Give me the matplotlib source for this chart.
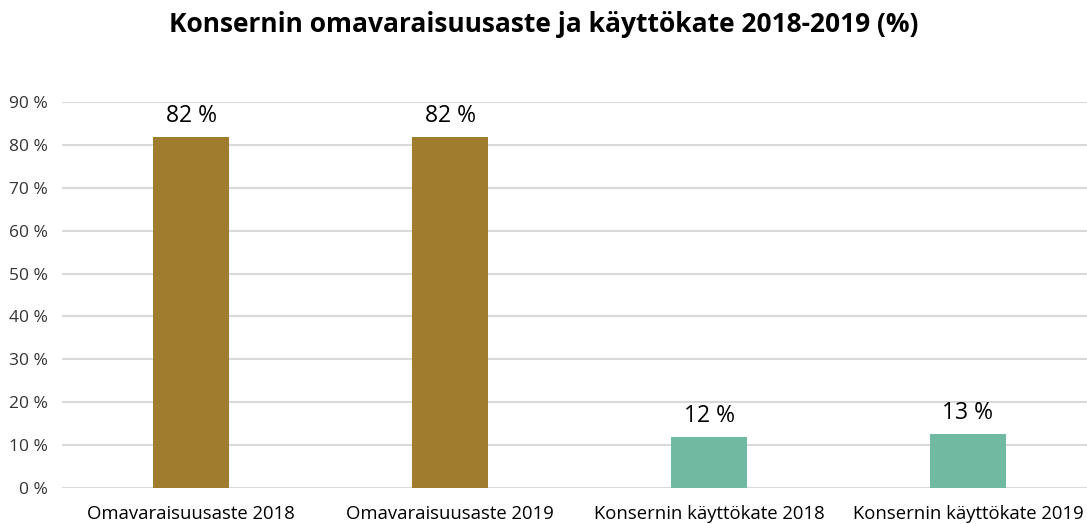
import matplotlib.pyplot as plt

plt.rcParams['font.family'] = ['Open Sans', 'DejaVu Sans']

categories = ['Omavaraisuusaste 2018', 'Omavaraisuusaste 2019',
              'Konsernin käyttökate 2018', 'Konsernin käyttökate 2019']
values = [81.9, 81.9, 11.9, 12.6]
labels = ['82 %', '82 %', '12 %', '13 %']
colors = ['#A07C2E', '#A07C2E', '#71B9A0', '#71B9A0']
yticks = list(range(0, 91, 10))

fig = plt.figure(figsize=(10.87, 5.24), dpi=100)
ax = fig.add_axes([62 / 1087, 36 / 524, 1025 / 1087, 386 / 524])

x = range(len(categories))
bars = ax.bar(x, values, width=0.293, color=colors, zorder=3)
for b, lab in zip(bars, labels):
    ax.text(b.get_x() + b.get_width() / 2, b.get_height() + 2.0, lab,
            ha='center', va='bottom', fontsize=16.5, color='#000000')

ax.set_xlim(-0.5, 3.46)
ax.set_ylim(0, 90)
ax.set_yticks(yticks)
ax.set_yticklabels([f'{t} %' for t in yticks], fontsize=12.5, color='#333333')
ax.set_xticks(list(x))
ax.set_xticklabels(categories, fontsize=13.3, color='#000000')
ax.tick_params(length=0, pad=10)
ax.tick_params(axis='x', pad=12)
ax.grid(axis='y', color='#D9D9D9', linewidth=1.5, zorder=0)
for s in ax.spines.values():
    s.set_visible(False)

fig.text(0.5, 1 - 25 / 524, 'Konsernin omavaraisuusaste ja käyttökate 2018-2019 (%)',
         fontsize=19, fontweight='bold', ha='center', va='center')

fig.savefig('out.png', dpi=100)
